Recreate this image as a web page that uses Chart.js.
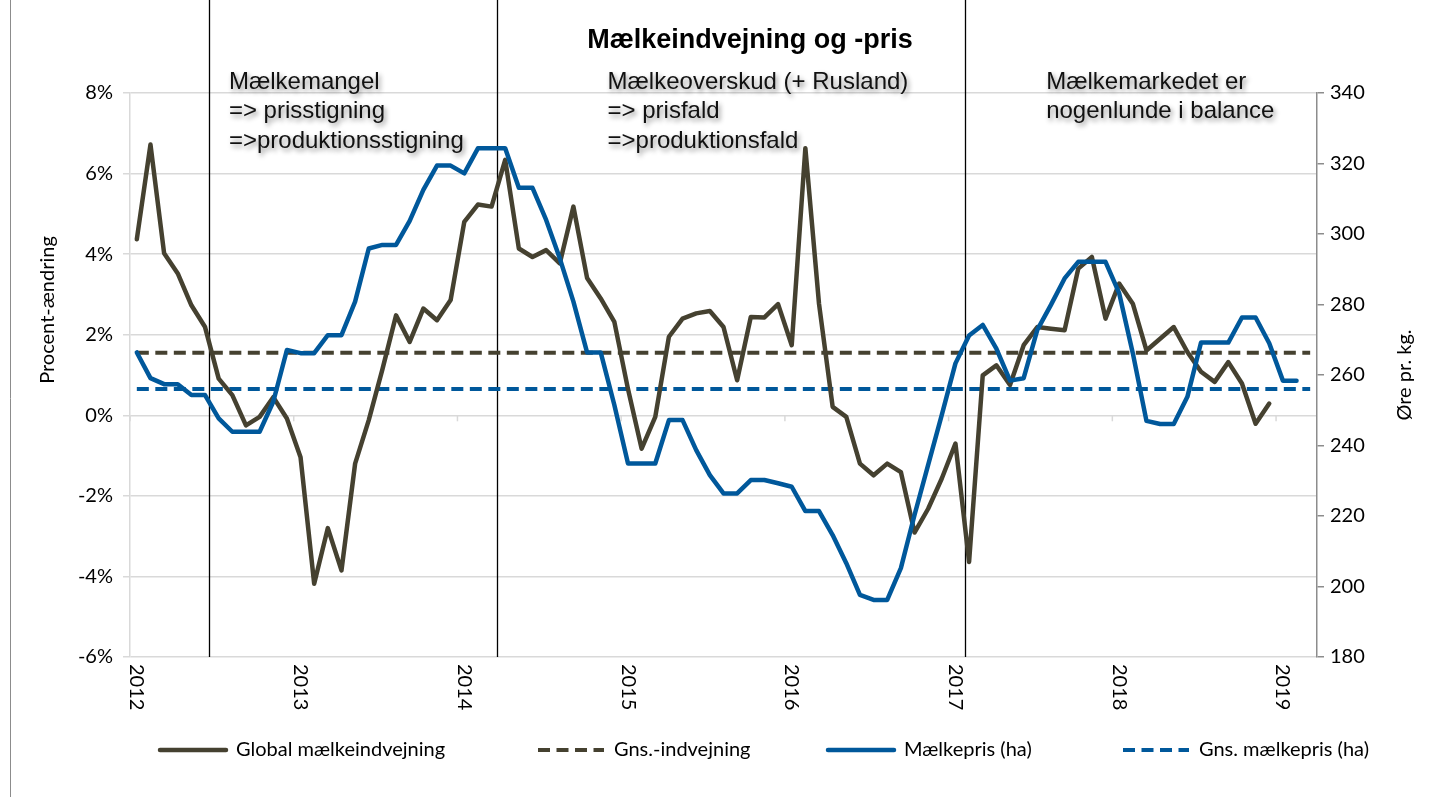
<!DOCTYPE html>
<html>
<head>
    <meta charset="utf-8">
    <title>Mælkeindvejning og -pris</title>
    <script src="https://cdn.jsdelivr.net/npm/chart.js"></script>
    <style>
        body {
            margin: 0;
            background-color: #fff;
        }
        #wrap {
            width: 1439px;
            height: 797px;
        }
    </style>
</head>
<body>
<div id="wrap"><canvas id="chart" width="1439" height="797"></canvas></div>

<script>
    // Months on the x axis (Jan 2012 - Mar 2019)
    const months = [
        '2012-01', '2012-02', '2012-03', '2012-04', '2012-05', '2012-06', '2012-07', '2012-08', '2012-09', '2012-10', '2012-11', '2012-12',
        '2013-01', '2013-02', '2013-03', '2013-04', '2013-05', '2013-06', '2013-07', '2013-08', '2013-09', '2013-10', '2013-11', '2013-12',
        '2014-01', '2014-02', '2014-03', '2014-04', '2014-05', '2014-06', '2014-07', '2014-08', '2014-09', '2014-10', '2014-11', '2014-12',
        '2015-01', '2015-02', '2015-03', '2015-04', '2015-05', '2015-06', '2015-07', '2015-08', '2015-09', '2015-10', '2015-11', '2015-12',
        '2016-01', '2016-02', '2016-03', '2016-04', '2016-05', '2016-06', '2016-07', '2016-08', '2016-09', '2016-10', '2016-11', '2016-12',
        '2017-01', '2017-02', '2017-03', '2017-04', '2017-05', '2017-06', '2017-07', '2017-08', '2017-09', '2017-10', '2017-11', '2017-12',
        '2018-01', '2018-02', '2018-03', '2018-04', '2018-05', '2018-06', '2018-07', '2018-08', '2018-09', '2018-10', '2018-11', '2018-12',
        '2019-01', '2019-02', '2019-03'
    ];
    const yearLabels = ['2012', '2013', '2014', '2015', '2016', '2017', '2018', '2019'];

    // Global mælkeindvejning, % change (left axis)
    const indvejning = [
        4.37, 6.72, 4.02, 3.52, 2.73, 2.19, 0.91, 0.50, -0.25, -0.04, 0.45, -0.08,
        -1.04, -4.18, -2.80, -3.85, -1.20, -0.12, 1.14, 2.48, 1.82, 2.65, 2.36, 2.86,
        4.80, 5.23, 5.18, 6.34, 4.14, 3.93, 4.10, 3.77, 5.18, 3.41, 2.90, 2.32,
        0.65, -0.83, -0.04, 1.95, 2.40, 2.53, 2.59, 2.19, 0.87, 2.44, 2.43, 2.76,
        1.74, 6.63, 2.77, 0.21, -0.04, -1.20, -1.49, -1.20, -1.41, -2.91, -2.32, -1.57,
        -0.70, -3.64, 0.99, 1.24, 0.75, 1.74, 2.19, 2.15, 2.11, 3.64, 3.93, 2.40,
        3.27, 2.77, 1.61, 1.90, 2.19, 1.57, 1.08, 0.83, 1.32, 0.79, -0.21, 0.29
    ];

    // Mælkepris, øre pr. kg (right axis)
    const maelkepris = [
        266.4, 259.1, 257.4, 257.4, 254.3, 254.3, 247.7, 243.9, 243.9, 243.9, 252.4, 267.1,
        266.2, 266.2, 271.3, 271.3, 280.8, 295.9, 296.9, 296.9, 303.7, 312.5, 319.4, 319.4,
        317.2, 324.3, 324.3, 324.3, 313.1, 313.1, 304.0, 293.1, 280.8, 266.4, 266.4, 251.5,
        234.9, 234.9, 234.9, 247.2, 247.2, 238.7, 231.6, 226.4, 226.4, 230.2, 230.2, 229.3,
        228.3, 221.4, 221.4, 214.6, 206.6, 197.6, 196.2, 196.2, 205.2, 220.3, 234.5, 248.7,
        263.3, 271.2, 274.2, 267.5, 258.4, 259.1, 272.8, 279.9, 287.4, 292.1, 292.1, 292.1,
        283.2, 266.2, 247.0, 246.1, 246.1, 253.8, 269.2, 269.2, 269.2, 276.3, 276.3, 269.0,
        258.4, 258.4
    ];

    // Averages
    const gnsIndvejning = 1.55;
    const gnsMaelkepris = 256.0;

    // Vertical dividers between the market phases (in months from Jan 2012)
    const phaseBreaks = [5.8, 26.9, 61.2];
    const phaseNotes = [
        {month: 7.25, lines: ['Mælkemangel', '=> prisstigning', '=>produktionsstigning']},
        {month: 35.0, lines: ['Mælkeoverskud (+ Rusland)', '=> prisfald', '=>produktionsfald']},
        {month: 67.15, lines: ['Mælkemarkedet er', 'nogenlunde i balance']}
    ];

    const DARK = '#454130';
    const BLUE = '#00589b';
    const GRID = '#d9d9d9';
    const TICK_FONT = 'Lato';

    const pointsOf = arr => arr.map((v, i) => ({x: i + 0.5, y: v}));
    const spanOf = v => [{x: 0.5, y: v}, {x: months.length - 0.5, y: v}];

    const decorations = {
        id: 'decorations',
        beforeDatasetsDraw(chart) {
            const {ctx, chartArea, scales} = chart;
            const x = scales.x, y = scales.y;
            ctx.save();
            // small tick marks where the horizontal axis crosses at 0
            const y0 = y.getPixelForValue(0);
            ctx.strokeStyle = GRID;
            ctx.lineWidth = 1.5;
            yearLabels.forEach((_, k) => {
                const px = x.getPixelForValue(12 * k);
                ctx.beginPath();
                ctx.moveTo(px, y0);
                ctx.lineTo(px, y0 + 6);
                ctx.stroke();
            });
            // phase dividers
            ctx.strokeStyle = '#000';
            ctx.lineWidth = 1.3;
            phaseBreaks.forEach(m => {
                const px = Math.round(x.getPixelForValue(m)) + 0.5;
                ctx.beginPath();
                ctx.moveTo(px, 0);
                ctx.lineTo(px, chartArea.bottom);
                ctx.stroke();
            });
            ctx.restore();
        },
        afterDraw(chart) {
            const {ctx, chartArea, scales} = chart;
            const x = scales.x;
            ctx.save();

            // chart frame on the left
            ctx.strokeStyle = '#8c8c8c';
            ctx.lineWidth = 1;
            ctx.beginPath();
            ctx.moveTo(10.5, 0);
            ctx.lineTo(10.5, 797);
            ctx.stroke();

            // title
            ctx.fillStyle = '#000';
            ctx.font = 'bold 27px "Liberation Sans", Arial, sans-serif';
            ctx.textAlign = 'center';
            ctx.textBaseline = 'alphabetic';
            ctx.fillText('Mælkeindvejning og -pris', 750, 48);

            // phase notes with shadow
            ctx.font = '24px "Liberation Sans", Arial, sans-serif';
            ctx.textAlign = 'left';
            ctx.shadowColor = 'rgba(0, 0, 0, 0.45)';
            ctx.shadowBlur = 5;
            ctx.shadowOffsetX = 2;
            ctx.shadowOffsetY = 3;
            phaseNotes.forEach(note => {
                const px = x.getPixelForValue(note.month);
                note.lines.forEach((line, j) => {
                    ctx.fillStyle = '#111';
                    ctx.fillText(line, px, 89 + j * 29.3);
                });
            });
            ctx.shadowColor = 'transparent';
            ctx.shadowBlur = 0;
            ctx.shadowOffsetX = 0;
            ctx.shadowOffsetY = 0;

            // year labels, rotated, centred on January
            ctx.fillStyle = '#000';
            ctx.font = '20px ' + TICK_FONT;
            ctx.textAlign = 'left';
            ctx.textBaseline = 'middle';
            yearLabels.forEach((label, k) => {
                const px = x.getPixelForValue(12 * k + 0.5);
                ctx.save();
                ctx.translate(px, chartArea.bottom + 7);
                ctx.rotate(Math.PI / 2);
                ctx.fillText(label, 0, 0);
                ctx.restore();
            });

            // axis titles
            ctx.font = '20px ' + TICK_FONT;
            ctx.textAlign = 'center';
            ctx.save();
            ctx.translate(48, 310);
            ctx.rotate(-Math.PI / 2);
            ctx.fillText('Procent-ændring', 0, 0);
            ctx.restore();
            ctx.save();
            ctx.translate(1405, 375);
            ctx.rotate(-Math.PI / 2);
            ctx.fillText('Øre pr. kg.', 0, 0);
            ctx.restore();

            // legend
            const slots = [158, 536, 826, 1121];
            const legendY = 750;
            ctx.font = '20px ' + TICK_FONT;
            ctx.textAlign = 'left';
            ctx.textBaseline = 'middle';
            chart.data.datasets.forEach((ds, i) => {
                const lx = slots[i];
                ctx.strokeStyle = ds.borderColor;
                ctx.lineWidth = ds.borderWidth;
                ctx.setLineDash(ds.borderDash || []);
                ctx.lineCap = ds.borderDash ? 'butt' : 'round';
                ctx.beginPath();
                ctx.moveTo(lx + 2, legendY);
                ctx.lineTo(lx + 68, legendY);
                ctx.stroke();
                ctx.setLineDash([]);
                ctx.fillStyle = '#000';
                ctx.fillText(ds.label, lx + 78, legendY);
            });

            ctx.restore();
        }
    };

    new Chart(document.getElementById('chart'), {
        type: 'line',
        data: {
            datasets: [
                {
                    label: 'Global mælkeindvejning',
                    data: pointsOf(indvejning),
                    yAxisID: 'y',
                    borderColor: DARK,
                    borderWidth: 4.5,
                    borderJoinStyle: 'round',
                    borderCapStyle: 'round',
                    pointRadius: 0,
                    order: 1
                },
                {
                    label: 'Gns.-indvejning',
                    data: spanOf(gnsIndvejning),
                    yAxisID: 'y',
                    borderColor: DARK,
                    borderWidth: 4,
                    borderDash: [12, 6.5],
                    pointRadius: 0,
                    order: 2
                },
                {
                    label: 'Mælkepris (ha)',
                    data: pointsOf(maelkepris),
                    yAxisID: 'y2',
                    borderColor: BLUE,
                    borderWidth: 4.5,
                    borderJoinStyle: 'round',
                    borderCapStyle: 'round',
                    pointRadius: 0,
                    order: 0
                },
                {
                    label: 'Gns. mælkepris (ha)',
                    data: spanOf(gnsMaelkepris),
                    yAxisID: 'y2',
                    borderColor: BLUE,
                    borderWidth: 4,
                    borderDash: [12, 6.5],
                    pointRadius: 0,
                    order: 3
                }
            ]
        },
        options: {
            responsive: false,
            animation: false,
            devicePixelRatio: 1,
            layout: {
                padding: {top: 93, left: 0, right: 0, bottom: 0}
            },
            plugins: {
                legend: {display: false},
                title: {display: false},
                tooltip: {enabled: false}
            },
            scales: {
                x: {
                    type: 'linear',
                    min: 0,
                    max: months.length,
                    ticks: {display: false},
                    grid: {display: false},
                    border: {display: false},
                    afterFit(scale) { scale.height = 140; }
                },
                y: {
                    position: 'left',
                    min: -6,
                    max: 8,
                    ticks: {
                        stepSize: 2,
                        padding: 10,
                        color: '#000',
                        font: {family: TICK_FONT, size: 20},
                        callback: v => v + '%'
                    },
                    grid: {color: GRID, lineWidth: 1.5, tickLength: 7},
                    border: {color: GRID, width: 1.5},
                    afterFit(scale) { scale.width = 130; }
                },
                y2: {
                    position: 'right',
                    min: 180,
                    max: 340,
                    ticks: {
                        stepSize: 20,
                        padding: 6,
                        color: '#000',
                        font: {family: TICK_FONT, size: 20}
                    },
                    grid: {drawOnChartArea: false, color: '#8c8c8c', lineWidth: 1.5, tickLength: 7},
                    border: {color: '#8c8c8c', width: 1.5},
                    afterFit(scale) { scale.width = 122; }
                }
            }
        },
        plugins: [decorations]
    });
</script>
</body>
</html>
